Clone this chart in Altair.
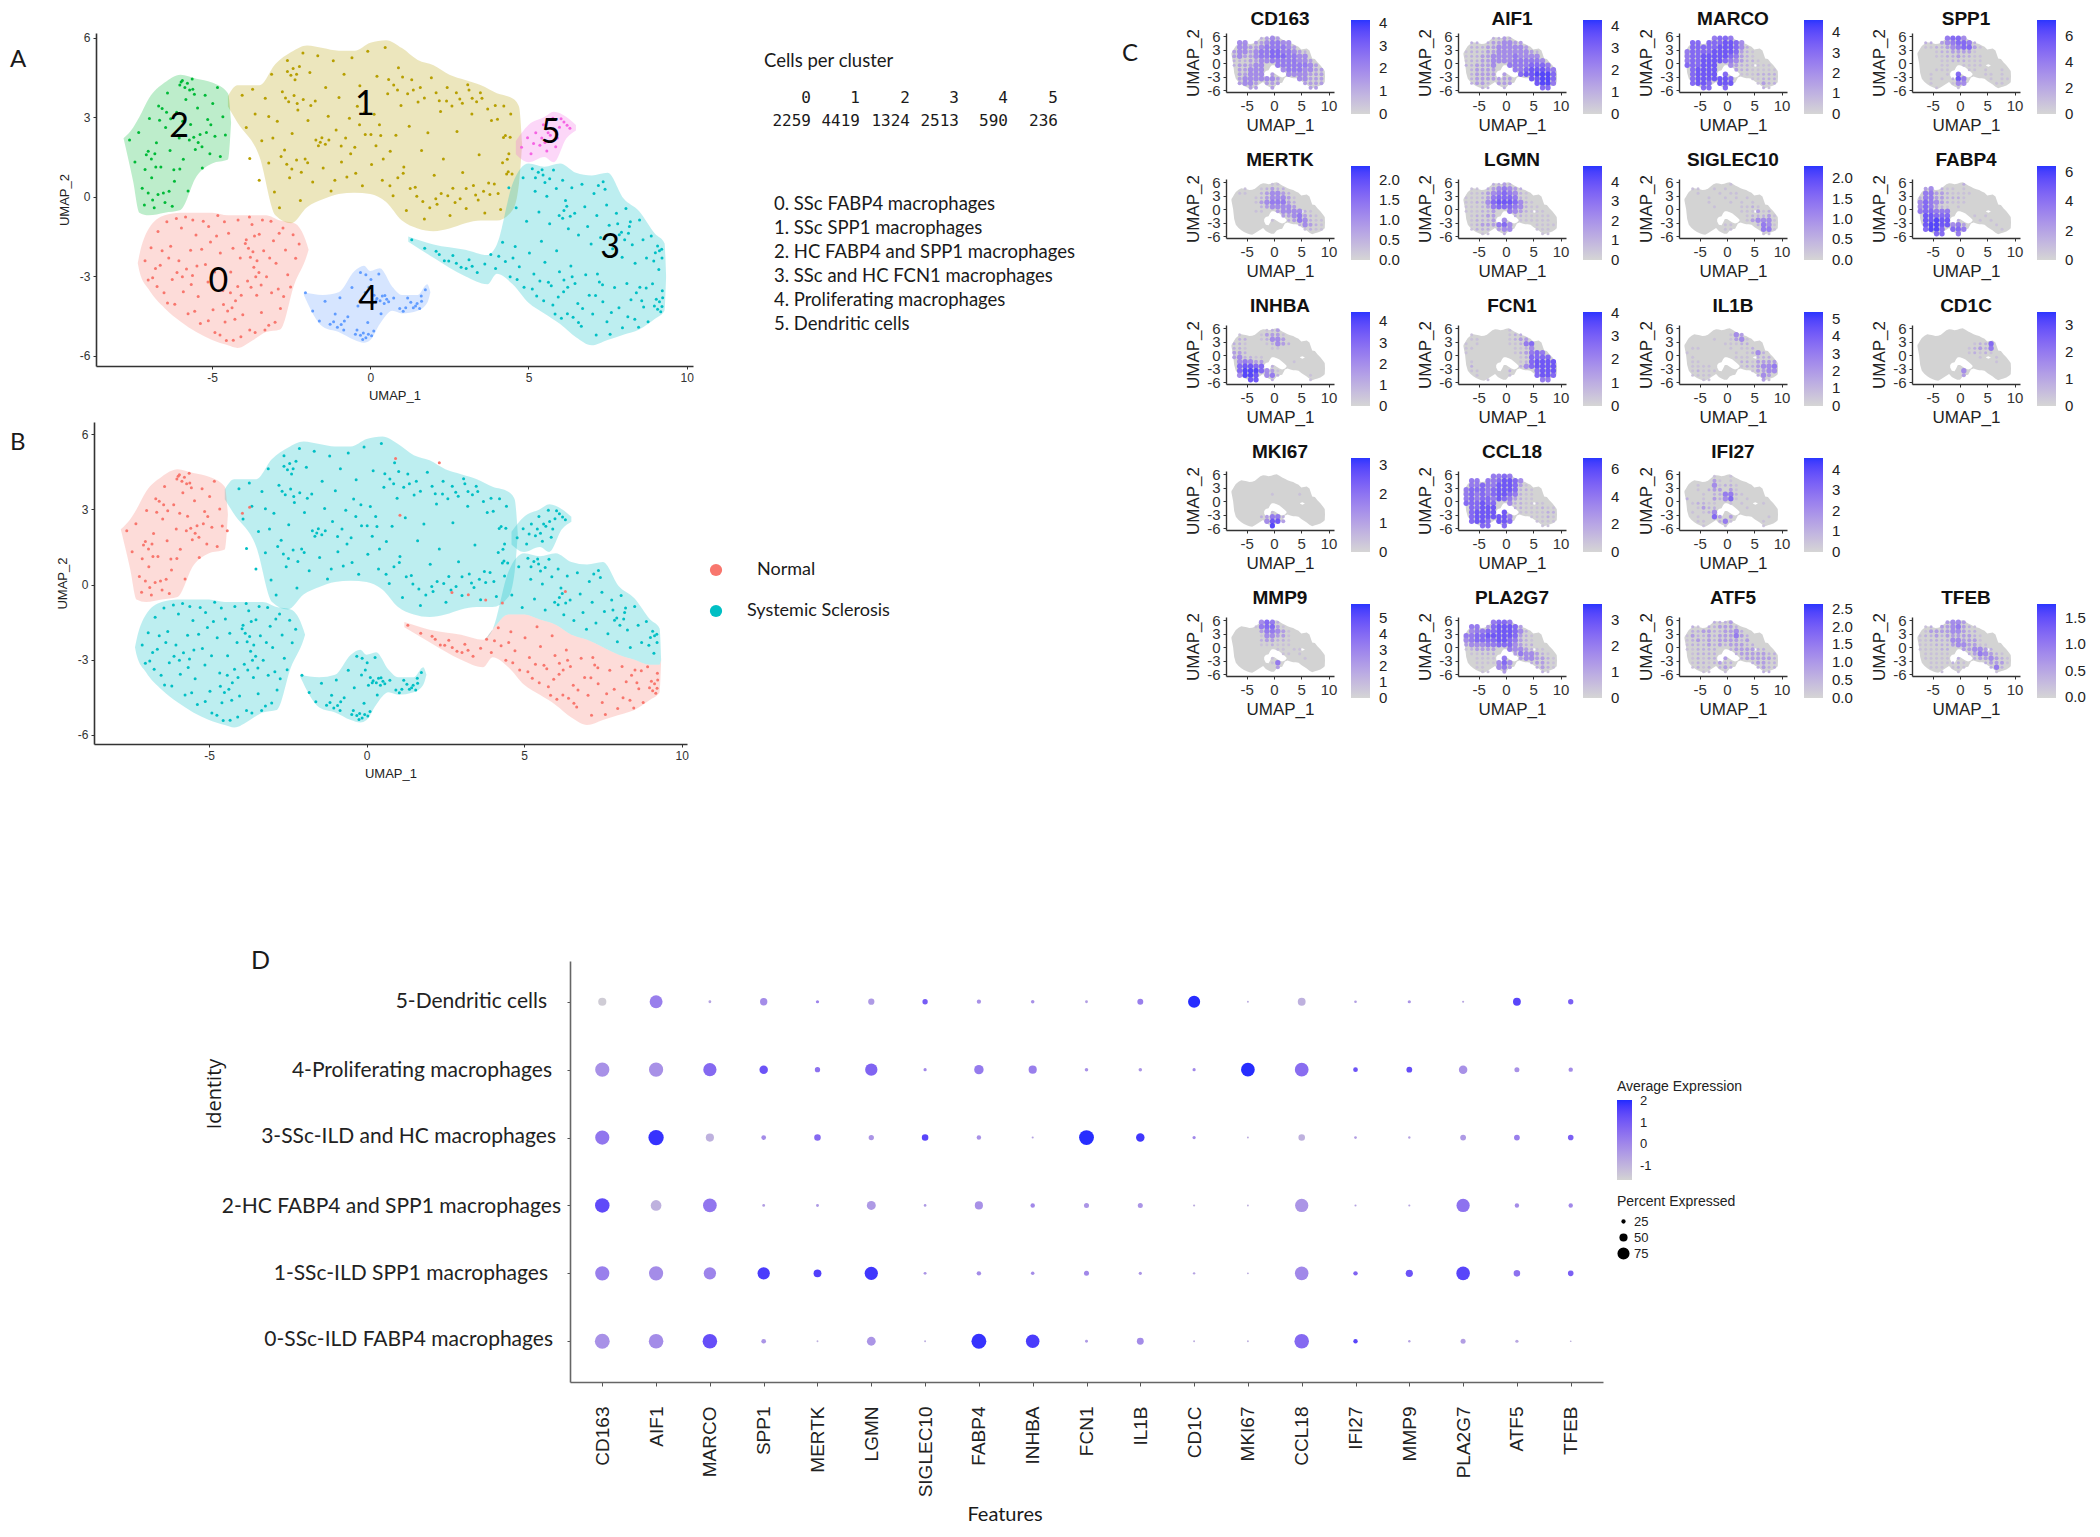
import altair as alt
import pandas as pd

W, H = 2084, 1521
GREY, BLUE = "#D3D3D3", "#1E2BFF"
one = alt.Data(values=[{"a": 1}])

# ---------- cluster outlines: x, upper edge, lower edge ----------
c0_x = [-7.35,-7.3,-7,-6.5,-6,-5.5,-5,-4.5,-4.2,-3.7,-3.3,-2.85,-2.4,-2,-1.95]
c0_t = [-2.5,-2.2,-1.2,-0.7,-0.6,-0.6,-0.6,-0.7,-0.7,-0.7,-0.7,-0.9,-1.0,-1.8,-2.0]
c0_b = [-2.5,-2.8,-3.5,-4.2,-4.7,-5.1,-5.4,-5.6,-5.7,-5.4,-5.1,-5.0,-3.3,-2.2,-2.0]
c1_x = [-4.5,-4.2,-3.5,-3,-2.5,-2,-1.5,-1,-0.5,0,0.5,1,1.5,2,2.5,3,3.5,4,4.5,4.7,4.8]
c1_t = [3.8,4.2,4.2,5.0,5.45,5.7,5.6,5.5,5.5,5.8,5.9,5.6,5.15,4.95,4.6,4.4,4.2,3.9,3.7,3.4,2.0]
c1_b = [3.4,2.8,1.5,-0.7,-1.0,-0.4,-0.1,0.1,0.15,0.1,-0.2,-0.9,-1.2,-1.3,-1.2,-1.0,-0.9,-0.9,-0.5,0.5,2.0]
c2_x = [-7.8,-7.5,-7.3,-7,-6.5,-6,-5.5,-5,-4.5,-4.4]
c2_t = [2.2,2.6,3.0,3.7,4.3,4.6,4.45,4.3,3.9,2.8]
c2_b = [2.2,0.6,-0.6,-0.7,-0.6,-0.5,0.75,1.25,1.4,2.8]
c3_x = [1.2,2,3,3.7,4,4.5,5,5.5,6,6.5,7,7.5,8,8.5,9,9.3,9.35]
c3_t = [-1.5,-1.8,-2.0,-2.2,-1.8,0.5,1.25,1.13,1.25,0.9,0.8,0.9,-0.06,-0.55,-1.4,-1.75,-3.0]
c3_m = [-1.5,-1.8,-2.0,-2.2,-1.8,-1.2,-1.2,-1.4,-1.6,-2.0,-2.2,-2.5,-2.8,-3.0,-3.2,-3.2,-3.0]
c3_b = [-1.7,-2.3,-3.0,-3.3,-2.9,-3.3,-4.0,-4.4,-4.8,-5.3,-5.6,-5.4,-5.2,-5.0,-4.6,-4.3,-3.0]
c4_x = [-2.1,-1.5,-1,-0.5,-0.2,0,0.3,0.7,1,1.5,1.8,1.9]
c4_t = [-3.6,-3.7,-3.6,-2.8,-2.6,-2.8,-2.7,-3.4,-3.7,-3.7,-3.3,-3.6]
c4_b = [-3.7,-4.9,-5.1,-5.4,-5.5,-5.4,-4.8,-4.3,-4.4,-4.3,-4.0,-3.6]
c5_x = [4.6,5,5.5,5.8,6.2,6.5]
c5_t = [2.1,2.7,3.0,3.2,3.0,2.7]
c5_b = [1.6,1.3,1.5,1.3,2.2,2.5]

# ---------- individual cells picked from panels A and B ----------
cells0 = [(-7.12,-2.41),(-6.93,-1.92),(-6.88,-3.05),(-6.71,-1.31),(-6.64,-2.58),(-6.52,-3.62),(-6.43,-0.94),(-6.31,-1.87),(-6.26,-3.12),(-6.18,-4.05),(-6.05,-2.41),(-5.97,-1.18),(-5.91,-3.58),(-5.84,-0.76),(-5.76,-4.41),(-5.68,-2.02),(-5.62,-2.97),(-5.51,-1.44),(-5.44,-3.76),(-5.37,-4.78),(-5.28,-0.92),(-5.21,-2.55),(-5.13,-3.21),(-5.05,-1.71),(-4.97,-4.26),(-4.91,-5.12),(-4.82,-0.71),(-4.74,-2.12),(-4.66,-3.53),(-4.59,-4.72),(-4.48,-1.38),(-4.41,-2.84),(-4.33,-5.41),(-4.26,-3.92),(-4.18,-0.88),(-4.11,-2.31),(-4.03,-4.45),(-3.95,-1.76),(-3.88,-3.18),(-3.81,-5.02),(-3.74,-1.05),(-3.68,-2.66),(-3.59,-3.71),(-3.51,-1.41),(-3.44,-4.36),(-3.37,-2.04),(-3.28,-3.02),(-3.21,-4.84),(-3.14,-0.92),(-3.06,-1.66),(-2.98,-2.51),(-2.91,-3.48),(-2.84,-4.21),(-2.76,-1.18),(-2.68,-2.01),(-2.61,-2.94),(-2.52,-3.4),(-2.44,-1.43),(-2.36,-2.32),(-2.25,-1.78),
(-3.92,-1.62),(-3.85,-1.94),(-3.79,-2.28),(-3.71,-2.07),(-3.66,-1.48),(-3.58,-2.41),(-3.52,-2.86),(-3.45,-3.33),(-3.62,-3.02),(-3.77,-3.41),(-4.42,-3.62),(-4.37,-4.18),(-4.28,-4.62),(-4.51,-4.31),(-4.64,-4.06),(-4.19,-3.38),(-4.08,-3.71),(-5.66,-3.31),(-5.81,-2.72),(-5.94,-3.02),(-6.11,-2.86),(-6.37,-2.31),(-6.58,-2.04),(-6.79,-2.71),(-7.02,-3.14),(-6.74,-3.38),(-6.41,-4.01),(-5.55,-4.32),(-5.12,-4.67),(-4.75,-5.21),(-4.55,-5.42),(-4.09,-5.28),(-3.64,-5.12),(-3.33,-5.02),(-3.01,-4.73),(-2.74,-3.76),(-3.12,-3.62),(-3.18,-2.31),(-2.88,-1.38),(-3.41,-0.88),(-3.82,-0.76),(-4.61,-0.94),(-5.11,-1.12),(-5.61,-0.88),(-6.13,-0.82),(-4.86,-1.48),(-4.34,-1.94),(-5.33,-1.98),(-4.92,-2.84),(-5.48,-2.61)]
cells1 = [(-4.05,3.82),(-3.92,2.61),(-3.81,1.44),(-3.72,4.05),(-3.64,3.12),(-3.51,0.62),(-3.43,2.11),(-3.32,3.71),(-3.21,1.27),(-3.12,4.62),(-3.03,0.18),(-2.94,2.84),(-2.87,-0.42),(-2.78,3.96),(-2.71,1.76),(-2.62,5.13),(-2.55,0.71),(-2.47,2.38),(-2.38,4.41),(-2.29,3.27),(-2.21,-0.14),(-2.13,5.42),(-2.06,1.42),(-1.97,2.87),(-1.91,4.68),(-1.82,0.55),(-1.74,3.61),(-1.66,5.31),(-1.58,2.05),(-1.49,1.08),(-1.41,4.12),(-1.33,3.03),(-1.24,0.22),(-1.17,5.12),(-1.08,2.51),(-0.99,3.74),(-0.91,1.31),(-0.83,4.62),(-0.74,0.74),(-0.66,2.96),(-0.58,5.24),(-0.49,1.86),(-0.41,3.41),(-0.33,4.18),(-0.25,0.41),(-0.16,2.34),(-0.08,5.48),(0.04,1.21),(0.12,3.11),(0.21,4.54),(0.29,2.71),(0.38,0.62),(0.47,5.62),(0.55,3.88),(0.63,1.71),(0.72,0.04),(0.81,2.32),(0.89,4.86),(0.97,3.44),(1.06,1.12),(1.14,-0.52),(1.23,2.66),(1.31,4.41),(1.42,0.36),(1.51,3.57),(1.62,1.74),(1.71,-0.84),(1.82,2.41),(1.93,4.48),(2.02,0.81),(2.11,-0.28),(2.22,3.21),(2.31,1.42),(2.43,4.12),(2.52,-0.71),(2.61,0.32),(2.74,2.46),(2.83,3.68),(2.92,0.91),(3.03,-0.44),(3.12,4.02),(3.21,3.12),(3.33,0.06),(3.44,1.58),(3.53,3.71),(3.62,-0.61),(3.74,0.52),(3.83,2.87),(3.95,3.44),(4.04,0.12),(4.12,-0.48),(4.21,2.23),(4.31,0.86),(4.38,1.62),(4.44,3.12),
(-2.62,4.72),(-2.51,4.58),(-2.44,4.83),(-2.33,4.62),(-2.24,4.91),(-2.68,3.72),(-2.58,3.58),(-2.41,3.81),(-2.31,3.51),(-2.12,3.66),(-1.88,3.44),(-1.72,2.14),(-1.64,1.92),(-1.53,2.22),(-1.42,1.98),(-1.31,2.14),(-2.82,1.52),(-2.64,1.22),(-2.48,1.04),(-2.33,1.38),(-2.18,0.92),(-1.98,1.28),(-3.21,3.02),(-3.08,2.21),(-0.92,1.91),(-0.78,2.21),(-0.62,1.62),(-0.34,2.71),(-0.18,3.18),(0.02,2.34),(0.18,1.92),(0.33,2.31),(0.41,1.42),(0.58,4.42),(0.74,4.21),(0.86,4.02),(1.02,4.51),(1.18,3.88),(1.36,4.02),(1.58,4.12),(1.71,3.72),(2.08,3.92),(2.18,3.62),(2.41,3.61),(2.58,3.42),(2.72,3.92),(2.91,3.52),(3.08,4.22),(3.22,3.71),(3.36,3.58),(3.48,3.92),(3.71,3.31),(4.02,2.92),(4.22,3.42),(4.27,2.31),(4.42,2.24),(4.36,0.94),(4.48,0.86),(4.33,1.41),(4.18,1.28),(1.26,0.31),(1.47,0.02),(1.66,-0.18),(1.88,-0.42),(2.07,-0.08),(2.24,0.12),(2.45,0.04),(2.68,-0.22),(2.84,-0.08),(3.03,0.31),(3.26,0.42),(3.41,-0.12),(3.58,0.21),(3.78,0.08),(3.92,0.48),(0.62,0.41),(0.87,0.71),(1.04,0.88),(-0.46,0.88),(-1.12,0.62)]
cells2 = [(-7.61,2.14),(-7.44,1.31),(-7.32,2.42),(-7.21,0.32),(-7.14,-0.31),(-7.08,1.58),(-6.98,2.95),(-6.91,0.71),(-6.83,-0.42),(-6.76,2.03),(-6.69,3.42),(-6.62,1.12),(-6.54,0.14),(-6.47,2.61),(-6.41,3.91),(-6.33,1.74),(-6.26,-0.36),(-6.19,0.58),(-6.12,3.18),(-6.04,2.21),(-5.98,4.32),(-5.91,1.41),(-5.83,3.66),(-5.76,0.22),(-5.68,2.72),(-5.61,4.05),(-5.53,1.78),(-5.46,3.34),(-5.38,2.34),(-5.31,1.08),(-5.22,3.82),(-5.14,2.91),(-5.07,1.62),(-4.98,3.51),(-4.91,2.28),(-4.83,4.12),(-4.74,1.52),(-4.66,3.01),(-4.58,2.33),
(-6.02,4.21),(-5.94,4.38),(-5.86,4.12),(-5.78,4.28),(-5.71,4.02),(-5.63,4.44),(-5.56,3.86),(-6.58,3.32),(-6.44,3.18),(-6.31,2.94),(-6.66,2.88),(-6.81,1.62),(-6.92,1.42),(-7.02,1.71),(-6.78,1.12),(-7.12,1.03),(-7.02,0.14),(-6.88,-0.12),(-6.71,0.08),(-6.49,-0.22),(-6.36,0.21),(-5.72,2.14),(-5.58,2.24),(-5.44,2.04),(-5.32,1.88),(-5.18,2.42),(-5.04,2.71),(-5.93,2.84),(-6.21,1.02),(-6.02,1.04)]
cells3_up = [(4.38,0.34),(4.61,-0.42),(4.83,0.71),(4.94,-0.92),(5.12,1.05),(5.21,0.21),(5.33,-0.58),(5.46,0.82),(5.58,0.02),(5.67,-1.02),(5.79,1.01),(5.88,0.31),(5.97,-0.71),(6.08,0.62),(6.17,-0.14),(6.26,-1.21),(6.37,0.34),(6.46,-0.62),(6.58,-1.44),(6.69,0.47),(6.78,-0.38),(6.87,-1.12),(6.98,-1.78),(7.07,0.12),(7.16,-0.71),(7.28,-1.54),(7.36,0.56),(7.47,-0.31),(7.55,-1.08),(7.66,-1.96),(7.78,-0.62),(7.87,-1.43),(7.96,-2.28),(8.08,-0.44),(8.19,-1.12),(8.28,-1.81),(8.37,-2.51),(8.51,-0.88),(8.62,-1.62),(8.73,-2.31),(8.88,-1.48),(9.01,-2.11),(9.12,-2.74),(9.21,-1.98),
(5.22,0.71),(5.31,0.92),(5.43,1.02),(5.52,0.54),(5.67,0.68),(6.12,-0.52),(6.21,-0.36),(6.32,-0.74),(6.08,-0.81),(7.82,-1.02),(7.94,-1.34),(8.04,-1.62),(8.16,-1.38),(8.22,-0.94),(9.14,-2.04),(9.22,-2.31),(9.08,-1.86),(8.96,-2.42),(7.21,0.42),(7.42,0.28)]
cells3_lo = [(1.31,-1.62),(1.72,-1.94),(2.08,-2.06),(2.34,-2.41),(2.61,-2.22),(2.87,-2.66),(3.12,-2.38),(3.38,-2.86),(3.62,-2.54),(3.81,-2.18),(3.96,-2.71),(4.18,-1.72),(4.27,-2.44),(4.42,-3.02),(4.58,-1.88),(4.71,-2.64),(4.86,-3.41),(5.03,-2.12),(5.17,-2.91),(5.26,-3.74),(5.41,-1.68),(5.52,-2.47),(5.63,-3.22),(5.77,-4.08),(5.89,-2.04),(5.98,-2.83),(6.11,-3.58),(6.23,-4.41),(6.34,-2.61),(6.47,-3.27),(6.56,-4.02),(6.67,-4.88),(6.81,-2.94),(6.92,-3.71),(7.03,-4.42),(7.14,-5.21),(7.24,-3.21),(7.35,-3.96),(7.48,-4.71),(7.58,-5.18),(7.72,-3.42),(7.86,-4.18),(7.97,-4.94),(8.11,-3.27),(8.24,-3.88),(8.36,-4.62),(8.52,-3.41),(8.64,-4.16),(8.78,-4.71),(8.92,-3.28),(9.04,-3.86),(9.18,-4.34),(9.23,-3.54),
(9.22,-4.14),(9.14,-3.96),(9.24,-3.81),(9.08,-4.24),(8.98,-4.12),(6.12,-3.14),(6.24,-3.41),(6.38,-3.02),(5.12,-3.48),(5.36,-3.18),(5.48,-3.92),(5.72,-3.36),(5.94,-3.78),(5.84,-4.42),(6.04,-4.58),(6.41,-4.54),(6.58,-4.74),(6.71,-4.21),(7.18,-2.91),(7.34,-3.32),(7.12,-3.72),(2.18,-2.18),(2.48,-2.42),(2.72,-2.51),(3.03,-2.71),(3.22,-2.62),(4.06,-2.24),(4.51,-2.31),(4.64,-3.12),(8.41,-3.62),(8.58,-3.92),(8.72,-3.44),(8.14,-4.52),(7.62,-4.36),(8.48,-4.92)]
cells4 = [(-2.05,-3.62),(-1.82,-4.31),(-1.61,-4.68),(-1.43,-3.94),(-1.27,-4.81),(-1.11,-4.42),(-0.96,-3.81),(-0.84,-5.02),(-0.71,-4.52),(-0.58,-3.42),(-0.47,-5.18),(-0.39,-4.12),(-0.31,-2.86),(-0.24,-5.38),(-0.16,-3.61),(-0.08,-4.74),(0.02,-3.12),(0.11,-5.06),(0.18,-3.92),(0.27,-2.91),(0.34,-4.41),(0.46,-3.72),(0.58,-3.96),(0.74,-3.82),(0.93,-4.21),(1.12,-4.18),(1.28,-3.98),(1.43,-4.12),(1.61,-3.74),(1.74,-3.51),
(0.21,-3.84),(0.31,-3.92),(0.38,-3.74),(0.44,-4.02),(0.52,-3.86),(0.12,-3.71),(0.06,-4.02),(-0.31,-5.22),(-0.22,-5.14),(-0.14,-5.32),(-0.06,-5.18),(0.04,-5.24),(-0.42,-5.02),(-0.92,-4.82),(-1.04,-4.92),(-1.16,-4.71),(-0.82,-4.68),(1.36,-4.18),(1.48,-4.02),(1.56,-4.21),(1.62,-3.94),(1.04,-4.32),(1.18,-3.82),(-0.14,-2.94),(-0.04,-3.41)]
cells5 = [(4.78,1.86),(4.97,2.22),(5.08,1.62),(5.23,2.41),(5.36,1.94),(5.47,2.71),(5.58,1.72),(5.69,2.32),(5.77,2.96),(5.86,1.88),(5.98,2.62),(6.12,2.82),(6.31,2.58),(5.16,2.01),(5.42,2.21),(5.62,2.41),(5.52,2.04),(5.81,2.51),(6.03,2.94),(6.22,2.69),(5.91,2.21)]
cells_extra_normal = [(2.71,-0.32),(3.23,-0.41),(3.78,-0.62),(4.31,-0.74),(-3.71,3.08),(1.06,2.76),(0.92,5.02),(2.31,4.86),(-4.42,2.14),(-3.94,2.84),(6.31,-0.28)]

label_text = ["0","1","2","3","4","5"]
label_x = [-4.8,-0.17,-6.04,7.58,-0.07,5.7]
label_y = [-3.2,3.45,2.63,-1.95,-3.9,2.4]
cluster_colors = ["#F8766D","#B79F00","#00BA38","#00BFC4","#619CFF","#F564E3"]
group_colors = ["#F8766D","#00BFC4"]
cluster_ids = [0,1,2,3,4,5]
cluster_counts = [2259,4419,1324,2513,590,236]
cluster_names = ["0. SSc FABP4 macrophages","1. SSc SPP1 macrophages","2. HC FABP4  and SPP1 macrophages","3. SSc and HC FCN1 macrophages","4. Proliferating macrophages","5. Dendritic cells"]

# ---------- silhouette of the embedding for the feature plots ----------
sil_x = [-7.8,-7.5,-7.3,-7,-6.5,-6,-5.5,-5,-4.5,-4,-3.5,-3,-2.5,-2,-1.5,-1,-0.5,0,0.5,1,1.5,2,2.5,3,3.5,4,4.5,5,5.5,6,6.5,7,7.5,8,8.5,9,9.3,9.35]
sil_t = [2.2,2.8,3.2,3.8,4.3,4.6,4.5,4.4,4.2,4.3,4.5,5.0,5.5,5.7,5.65,5.5,5.6,5.85,5.95,5.6,5.2,4.95,4.6,4.4,4.2,3.9,3.6,3.0,3.1,3.2,2.8,1.0,0.9,0.1,-0.5,-1.3,-1.8,-3.0]
sil_b = [1.9,0,-2.2,-3.5,-4.2,-4.7,-5.1,-5.4,-5.6,-5.7,-5.4,-5.0,-4.6,-4.2,-4.9,-5.2,-5.5,-5.5,-4.8,-4.5,-4.4,-3.2,-3.0,-3.2,-3.4,-3.4,-3.5,-4.0,-4.4,-4.8,-5.3,-5.6,-5.4,-5.2,-5.0,-4.6,-4.3,-3.0]
hole_x = [-1.8,-1.5,-1,-0.7,-0.4,0,0.5,1,1.5,2,2.3]
hole_t = [-2.2,-1.8,-1.6,-0.9,-0.5,-0.5,-0.7,-1.0,-1.5,-2.0,-2.4]
hole_b = [-2.8,-3.5,-3.6,-3.0,-2.2,-2.2,-2.6,-3.0,-3.2,-3.0,-2.6]
gap_x = [4.8,5.2,5.6]
gap_t = [-0.45,-0.3,-0.5]
gap_b = [-0.6,-0.85,-0.6]

genes = ["CD163","AIF1","MARCO","SPP1","MERTK","LGMN","SIGLEC10","FABP4","INHBA","FCN1","IL1B","CD1C","MKI67","CCL18","IFI27","MMP9","PLA2G7","ATF5","TFEB"]
gene_top = {"CD163":4.13,"AIF1":4.25,"MARCO":4.6,"SPP1":7.2,"MERTK":2.35,"LGMN":4.8,"SIGLEC10":2.3,"FABP4":6.4,"INHBA":4.45,"FCN1":4.03,"IL1B":5.4,"CD1C":3.5,"MKI67":3.24,"CCL18":6.8,"IFI27":4.58,"MMP9":5.9,"PLA2G7":3.6,"ATF5":2.64,"TFEB":1.76}
gene_ticks = {"CD163":[0,1,2,3,4],"AIF1":[0,1,2,3,4],"MARCO":[0,1,2,3,4],"SPP1":[0,2,4,6],"MERTK":[0,0.5,1,1.5,2],"LGMN":[0,1,2,3,4],"SIGLEC10":[0,0.5,1,1.5,2],"FABP4":[0,2,4,6],"INHBA":[0,1,2,3,4],"FCN1":[0,1,2,3,4],"IL1B":[0,1,2,3,4,5],"CD1C":[0,1,2,3],"MKI67":[0,1,2,3],"CCL18":[0,2,4,6],"IFI27":[0,1,2,3,4],"MMP9":[0,1,2,3,4,5],"PLA2G7":[0,1,2,3],"ATF5":[0,0.5,1,1.5,2,2.5],"TFEB":[0,0.5,1,1.5]}
gene_slot = {"CD163":(0,0),"AIF1":(0,1),"MARCO":(0,2),"SPP1":(0,3),"MERTK":(1,0),"LGMN":(1,1),"SIGLEC10":(1,2),"FABP4":(1,3),"INHBA":(2,0),"FCN1":(2,1),"IL1B":(2,2),"CD1C":(2,3),"MKI67":(3,0),"CCL18":(3,1),"IFI27":(3,2),"MMP9":(4,0),"PLA2G7":(4,1),"ATF5":(4,2),"TFEB":(4,3)}

# expression level 0-9 on a coarse grid; rows y=5.5..-5.5, columns x=-7.3..8.7
grid = {
"CD163":["00000234300000000","04403345544000000","04433455554300000","34434556655432000","34334556665544000","22233445555544300","23334400555555430","03344400045554433","03344403004444333","03444444300044333","03443033300003333","00033003000000330"],
"AIF1":["00000223200000000","02202334433000000","02223344444300000","12223344444432000","12233444454444000","12233444455555400","22333400555566650","02333300055677765","02333303006778886","02333333300077886","02332033300007885","00022002000000660"],
"MARCO":["00000566500000000","06606667764000000","06666677764200000","56666777763210000","56677777653210000","56677776543221000","66677700432211110","06777700032211111","06777706001112222","06777777600011222","06776077700001322","00066006000000210"],
"SPP1":["00000566400000000","02203456652000000","01122345663100000","00012233331000000","00011223221100000","00001122211100000","00001100111100000","00011100011010010","00100106000011010","00101027500001011","00100014400000110","00010001000000000"],
"MERTK":["00000001100000000","00100123220000000","01100234432000000","00001234443100000","00001345553200000","00000234444300000","00001100344442100","00000000033453210","00000001002354211","00000000000024321","00000000000001211","00000000000000000"],
"LGMN":["00000223200000000","01102345432000000","01123456542100000","11123566652100000","11224677764210000","11123566654211000","11122300543211100","01223300022111110","01222304001111110","01233356400001111","01222034400001110","00011002000000110"],
"SIGLEC10":["00000000100000000","01100101000000000","00100010110000000","00001001010100000","00001000101010000","00000100001121000","00000000001113120","00000000000122231","00000000000134441","00000001100002541","00000001100000551","00000000000000110"],
"FABP4":["00000000200000000","03402110100000000","05533211110000000","25533222100000000","46543211100000000","46532101000000000","56655500000000000","07766600001010000","07787702000101000","07887745300000100","06886066500000010","00066005000000000"],
"INHBA":["00000012300000000","01000133310000000","02200124430000000","22100012432000000","22100001100000000","33200000000000000","34221100000000000","04543300000100000","06776602000000000","06888643100000000","04887045200000100","00077002000000100"],
"FCN1":["00000000100000000","01000000122000000","01100000123300000","10100000112560000","11000000011240000","10000000012356500","00000000001266660","01000000001267777","02000000002467777","01100000200006777","00100000100006776","00001000000000550"],
"IL1B":["00000000000000000","00000000143000000","00000100134100000","00000001112200000","01100000101120000","10000000010124200","01000000011102220","01100000002213333","01111000001223445","01211100000013344","01111000000002430","00011000000000310"],
"CD1C":["00000000000000000","00000000000000000","00000000000000000","00000000001226000","00000000012325000","00000000012121000","00000000000100100","00000000000000100","00000000000000000","00000000400000000","00000000300000000","00000000000000000"],
"MKI67":["00000000000000000","00000000000000000","00000000000000000","00000000000000000","00000001000010000","00000000000000000","00000000000000000","00000000000000000","00000001000000000","00000235520000000","00000047730000000","00000008000000000"],
"CCL18":["00000556500000000","05505567764000000","05565577763100000","56665677762210000","56565677652110000","56566576532110000","66676600422111100","06677700022111211","06777707001111122","06777777500011121","06776077600001111","00066006000000110"],
"IFI27":["00000100100000000","00000310100000000","00100412210000000","00102330310000000","00010225521000000","20010324610100000","01221100101000100","00132200000100000","01012400000000000","00100630300000010","00110025100000100","00010001000000100"],
"MMP9":["00000465200000000","00001566310000000","00000355431000000","00000144331000000","00000233221000000","00000112111000000","00000000110110000","00000000011010000","00000001000001000","00000001500000000","00000000300000000","00000000000000000"],
"PLA2G7":["00000566500000000","05503677763000000","04556677764200000","55667777763210000","45666677653210000","34445566643220000","12333300544321100","01122200035443210","00111105003443321","00111146400023321","00110045300002321","00011003000000210"],
"ATF5":["00000222300000000","02102233320000000","02233223342000000","13223233353200000","12323233332300000","12223232333220000","11222200233332200","01222200023333322","01212203002333332","01221232200023322","01212023200002322","00011001000000220"],
"TFEB":["00000344300000000","01203345321000000","01333344322000000","12232333332100000","11222244333100000","11122234433110000","11112200334432000","01111100023543210","01111102002334321","00111122100023331","00111012100002520","00001001000000100"],
}

# ---------- dot plot ----------
identities = ["5-Dendritic cells","4-Proliferating macrophages","3-SSc-ILD and HC macrophages","2-HC FABP4 and SPP1 macrophages","1-SSc-ILD SPP1 macrophages","0-SSc-ILD FABP4 macrophages"]
identity_right = [547,552,556,561,548,553]
identity_mid = [1002,1071,1137,1207,1274,1340]
pct = [
[50,80,15,45,18,38,32,25,20,15,36,75,8,48,14,18,10,48,32],
[88,88,82,52,32,76,18,58,50,20,20,18,85,85,28,35,52,30,26],
[88,95,50,28,40,32,40,26,10,92,52,18,8,40,14,12,35,35,34],
[90,66,85,15,16,55,14,50,26,30,30,10,8,82,10,10,82,26,26],
[88,88,76,76,48,82,16,26,20,30,18,12,8,84,26,44,84,40,34],
[92,90,90,28,8,54,8,92,84,16,42,8,8,90,26,12,30,18,6],
]
avg = [
[-1.5,0.2,-0.6,-0.1,0.1,-0.4,1.0,-0.2,-0.2,-0.5,0.2,2.0,-0.8,-0.9,-0.5,-0.3,-0.7,1.5,0.9],
[-0.2,-0.2,0.7,1.2,0.5,0.8,0.0,0.3,0.2,-0.2,-0.3,0.0,2.0,0.6,1.2,1.3,-0.2,-0.2,-0.1],
[0.4,1.9,-0.9,-0.1,0.7,-0.3,1.5,-0.2,-0.6,2.0,1.8,0.0,-0.8,-0.9,-0.5,-0.6,-0.4,0.2,0.9],
[1.4,-0.9,0.4,-0.5,-0.4,-0.4,-0.4,-0.2,0.0,-0.3,-0.3,-0.8,-0.9,-0.3,-0.6,-0.7,0.5,-0.1,0.0],
[0.2,-0.1,0.1,1.7,1.6,1.8,-0.3,-0.1,-0.1,0.0,-0.3,-0.6,-0.8,0.0,0.8,1.2,1.5,0.5,0.9],
[-0.2,-0.1,1.3,-0.3,-0.9,-0.3,-0.8,1.9,1.7,-0.4,-0.1,-0.8,-0.9,0.7,1.5,-0.6,-0.5,-0.7,-1.0],
]

# ---------- helpers ----------
SANS = "Liberation Sans"
LATO = "Lato"

def note(px, py, s, size, font=LATO, color="#1a1a1a", align="left", weight="normal", angle=0):
    return alt.Chart(one).mark_text(text=s, align=align, baseline="middle", font=font, fontSize=size,
                                    color=color, fontWeight=weight, angle=angle).encode(
        x=alt.value(px - 8), y=alt.value(py - 8))

def band(x, t, b, group):
    return pd.DataFrame({"x": x, "t": t, "b": b, "g": group})

def pts(lst, group):
    return pd.DataFrame({"x": [p[0] for p in lst], "y": [p[1] for p in lst], "g": group})

def axes(left, right, bottom, top, xdom, ydom, fs, ts, dw, tpx, tpy):
    common = dict(grid=False, labelFont=SANS, labelFontSize=fs, labelColor="#333", titleFont=SANS, titleFontSize=ts,
                  titleFontWeight="normal", titleColor="#222", domainColor="#333", domainWidth=dw,
                  tickColor="#333", tickSize=3, labelPadding=3, labelFlush=False, labelExpr="'' + datum.value",
                  labelOverlap=False)
    ax = alt.Axis(orient="bottom", offset=(bottom - 8) - H, values=[-5, 0, 5, 10], title="UMAP_1", titlePadding=tpx, **common)
    ay = alt.Axis(orient="left", offset=-(left - 8), values=[-6, -3, 0, 3, 6], title="UMAP_2", titlePadding=tpy, **common)
    sx = alt.Scale(domain=xdom, range=[left - 8, right - 8], nice=False, zero=False)
    sy = alt.Scale(domain=ydom, range=[bottom - 8, top - 8], nice=False, zero=False)
    return ax, ay, sx, sy

def big_panel(left, right, bottom, top, xdom, ydom, bands, points, domain, colors, labels=None):
    ax, ay, sx, sy = axes(left, right, bottom, top, xdom, ydom, 12, 13, 1.6, 6, 8)
    cs = alt.Scale(domain=domain, range=colors)
    tint = alt.Chart(bands).mark_area(opacity=0.26, interpolate="monotone").encode(
        x=alt.X("x:Q", scale=sx, axis=ax),
        y=alt.Y("t:Q", scale=sy, axis=ay),
        y2="b:Q",
        color=alt.Color("g:N", scale=cs, legend=None),
        detail="g:N")
    dots = alt.Chart(points).mark_circle(size=9, opacity=1).encode(
        x=alt.X("x:Q", scale=sx, axis=ax), y=alt.Y("y:Q", scale=sy, axis=ay),
        color=alt.Color("g:N", scale=cs, legend=None))
    parts = [tint, dots]
    if labels is not None:
        parts.append(alt.Chart(labels).mark_text(font=LATO, fontSize=34, color="black").encode(
            x=alt.X("x:Q", scale=sx, axis=ax), y=alt.Y("y:Q", scale=sy, axis=ay), text="t:N"))
    return alt.layer(*parts)

# ---------- panel A ----------
a_bands = pd.concat([band(c0_x,c0_t,c0_b,"0"),band(c1_x,c1_t,c1_b,"1"),band(c2_x,c2_t,c2_b,"2"),
                     band(c3_x,c3_t,c3_b,"3"),band(c4_x,c4_t,c4_b,"4"),band(c5_x,c5_t,c5_b,"5")])
a_pts = pd.concat([pts(cells0,"0"),pts(cells1,"1"),pts(cells2,"2"),pts(cells3_up,"3"),pts(cells3_lo,"3"),pts(cells4,"4"),pts(cells5,"5")])
a_lab = pd.DataFrame({"x": label_x, "y": label_y, "t": label_text})
panelA = big_panel(96, 693, 366, 33, [-8.67, 10.2], [-6.38, 6.17], a_bands, a_pts,
                   ["0","1","2","3","4","5"], cluster_colors, a_lab)

# ---------- panel B ----------
NORMAL, SSC = "Normal", "Systemic Sclerosis"
b_bands = pd.concat([band(c0_x,c0_t,c0_b,SSC+"0"),band(c1_x,c1_t,c1_b,SSC+"1"),band(c4_x,c4_t,c4_b,SSC+"4"),
                     band(c5_x,c5_t,c5_b,SSC+"5"),band(c3_x,c3_t,c3_m,SSC+"3"),
                     band(c2_x,c2_t,c2_b,NORMAL+"2"),band(c3_x,c3_m,c3_b,NORMAL+"3")])
b_keys = [SSC+s for s in "01453"] + [NORMAL+"2", NORMAL+"3"]
b_cols = [group_colors[1]]*5 + [group_colors[0]]*2
b_pts = pd.concat([pts(cells0,SSC+"0"),pts(cells1,SSC+"1"),pts(cells3_up,SSC+"3"),pts(cells4,SSC+"4"),pts(cells5,SSC+"5"),
                   pts(cells2,NORMAL+"2"),pts(cells3_lo,NORMAL+"3"),pts(cells_extra_normal,NORMAL+"3")])
panelB = big_panel(94, 687, 744, 422, [-8.65, 10.17], [-6.36, 6.48], b_bands, b_pts, b_keys, b_cols)

# ---------- panel C ----------
col_left = [1226, 1458, 1679, 1912]
sil_df = pd.DataFrame({"x": sil_x, "t": sil_t, "b": sil_b})
hole_df = pd.concat([band(hole_x, hole_t, hole_b, "a"), band(gap_x, gap_t, gap_b, "b")])
grid_y = [5.5 - i for i in range(12)]
grid_x = [-7.3 + i for i in range(17)]
dot_area = {1: 9, 2: 9, 3: 16, 4: 28, 5: 28, 6: 28, 7: 28, 8: 28, 9: 28}

def feature(gene):
    r, c = gene_slot[gene]
    left = col_left[c]
    bottom = 92 + 146 * r
    top = gene_top[gene]
    ax, ay, sx, sy = axes(left, left + 108, bottom, bottom - 59, [-8.8, 11], [-6.44, 6.67], 15, 17, 1.4, 4, 4)
    rows = [(grid_x[j], grid_y[i], int(ch) / 9 * top, dot_area[int(ch)])
            for i, line in enumerate(grid[gene]) for j, ch in enumerate(line) if ch != "0"]
    cells = pd.DataFrame(rows, columns=["x", "y", "v", "s"])
    fractional = any(t != int(t) for t in gene_ticks[gene])
    legend = alt.Legend(orient="none", legendX=left + 125 - 8, legendY=bottom - 72 - 8, title=None,
                        gradientLength=94, gradientThickness=19, direction="vertical",
                        values=gene_ticks[gene], format=".1f" if fractional else "d",
                        labelFont=SANS, labelFontSize=15, labelColor="#222", labelOffset=9,
                        gradientStrokeWidth=0, labelOverlap=False)
    base = alt.Chart(sil_df).mark_area(color=GREY).encode(
        x=alt.X("x:Q", scale=sx, axis=ax), y=alt.Y("t:Q", scale=sy, axis=ay), y2="b:Q")
    hole = alt.Chart(hole_df).mark_area(color="white").encode(
        x=alt.X("x:Q", scale=sx, axis=ax), y=alt.Y("t:Q", scale=sy, axis=ay), y2="b:Q", detail="g:N")
    dots = alt.Chart(cells).mark_circle(opacity=0.95).encode(
        x=alt.X("x:Q", scale=sx, axis=ax), y=alt.Y("y:Q", scale=sy, axis=ay),
        size=alt.Size("s:Q", scale=None, legend=None),
        color=alt.Color("v:Q", scale=alt.Scale(domain=[-0.01, top], range=[GREY, BLUE], interpolate="lab", nice=False), legend=legend))
    title_y = 19 if r == 0 else bottom - 78
    title = note(left + 54, title_y, gene, 19, font=SANS, color="#111", align="center", weight="bold")
    return alt.layer(base, hole, dots, title)

# ---------- panel D ----------
dot_rows = [(identities[i], genes[j], pct[i][j], avg[i][j]) for i in range(6) for j in range(19)]
dot_df = pd.DataFrame(dot_rows, columns=["identity", "feature", "pct", "avg"])
panelD = alt.Chart(dot_df).mark_circle(opacity=1).encode(
    x=alt.X("feature:N", sort=genes, title=None,
            scale=alt.Scale(type="point", padding=0.6, range=[570 - 8, 1603 - 8]),
            axis=alt.Axis(orient="bottom", offset=(1382 - 8) - H, labelAngle=270, labelFont=SANS, labelFontSize=19,
                          labelColor="#222", labelPadding=20, tickSize=4, tickColor="#555", domainColor="#666",
                          domainWidth=1.6, grid=False, labelLimit=200)),
    y=alt.Y("identity:N", sort=identities, title=None,
            scale=alt.Scale(type="point", padding=0.6, range=[961 - 8, 1382 - 8]),
            axis=alt.Axis(orient="left", offset=-(570 - 8), labels=False, tickSize=3, tickColor="#555",
                          domainColor="#666", domainWidth=1.6, grid=False)),
    color=alt.Color("avg:Q", scale=alt.Scale(domain=[-1.65, 2.05], range=[GREY, BLUE], interpolate="lab", nice=False),
                    legend=alt.Legend(orient="none", legendX=1617 - 8, legendY=1080 - 8, title="Average Expression",
                                      titleFont=SANS, titleFontSize=14, titleFontWeight="normal", titleColor="#222",
                                      titlePadding=6, gradientLength=80, gradientThickness=15, values=[-1, 0, 1, 2],
                                      labelFont=SANS, labelFontSize=13, labelColor="#222", labelOffset=8,
                                      gradientStrokeWidth=0, direction="vertical", labelExpr="'' + datum.value",
                                      labelOverlap=False)),
    size=alt.Size("pct:Q", scale=alt.Scale(type="pow", exponent=2, domain=[0, 100], range=[2, 260]),
                  legend=alt.Legend(orient="none", legendX=1617 - 8, legendY=1195 - 8, title="Percent Expressed",
                                    titleFont=SANS, titleFontSize=14, titleFontWeight="normal", titleColor="#222",
                                    titlePadding=6, values=[25, 50, 75], symbolFillColor="black",
                                    symbolStrokeWidth=0, symbolOpacity=1, symbolType="circle",
                                    labelFont=SANS, labelFontSize=13, labelColor="#222", format="d")))

# ---------- free text ----------
texts = [note(10, 60, "A", 24), note(10, 443, "B", 24), note(1122, 54, "C", 24), note(251, 961, "D", 25),
         note(764, 61, "Cells per cluster", 18.5),
         note(757, 570, NORMAL, 18), note(747, 611, SSC, 18),
         note(215, 1094, "Identity", 20, font="Open Sans", angle=270, align="center"),
         note(1005, 1515, "Features", 20, align="center")]
table_right = [811, 860, 910, 959, 1008, 1058]
for i in range(6):
    texts.append(note(table_right[i], 98, str(cluster_ids[i]), 16, font="DejaVu Sans Mono", align="right"))
    texts.append(note(table_right[i], 121, str(cluster_counts[i]), 16, font="DejaVu Sans Mono", align="right"))
for i, name in enumerate(cluster_names):
    texts.append(note(774, 204 + 24 * i, name, 18.5))
for i, name in enumerate(identities):
    texts.append(note(identity_right[i], identity_mid[i], name, 21, color="#222", align="right"))

legend_swatches = [
    alt.Chart(one).mark_circle(size=150, opacity=1, color=group_colors[k]).encode(x=alt.value(716 - 8), y=alt.value(y - 8))
    for k, y in enumerate([570, 611])
]

chart = alt.layer(
    panelA, panelB, *[feature(g) for g in genes], panelD, *legend_swatches, *texts
).resolve_scale(x="independent", y="independent", color="independent", size="independent"
).resolve_axis(x="independent", y="independent"
).resolve_legend(color="independent", size="independent"
).properties(width=W, height=H, padding=0, autosize=alt.AutoSizeParams(type="none"), background="white"
).configure_view(stroke=None)

chart.save("out.html", embed_options={"renderer": "svg", "actions": False})
